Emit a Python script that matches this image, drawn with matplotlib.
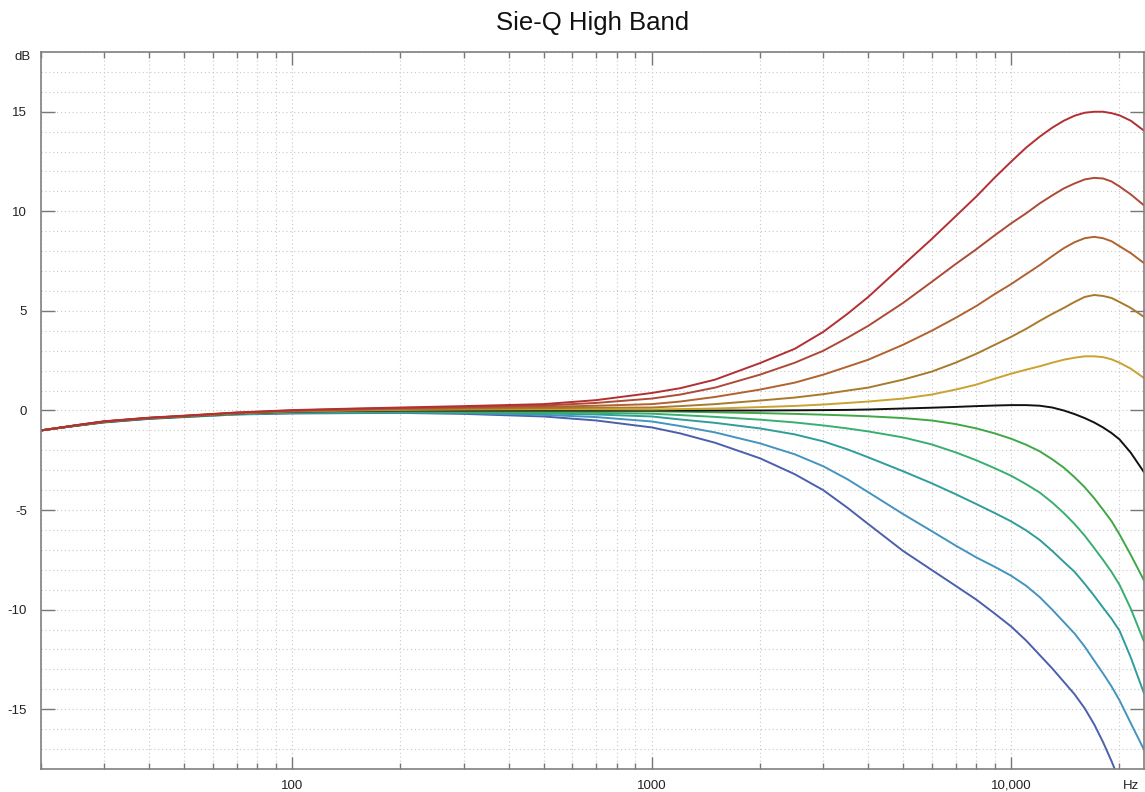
import matplotlib
matplotlib.use("Agg")
import matplotlib.pyplot as plt
from matplotlib.ticker import FixedLocator, LogLocator, MultipleLocator, NullFormatter

plt.rcParams["font.family"] = ["Liberation Sans", "DejaVu Sans"]
plt.rcParams["axes.unicode_minus"] = False

freqs = [20, 25, 30, 40, 50, 70, 100, 150, 200, 300, 500, 700,
         1000, 1200, 1500, 2000, 2500, 3000, 3500, 4000, 5000, 6000, 7000, 8000, 9000,
         10000, 11000, 12000, 13000, 14000, 15000, 16000, 17000, 18000, 19000, 20000, 21500, 23400]

# gain curves (dB), top to bottom
boost_15 = [-1.0, -0.74, -0.54, -0.36, -0.26, -0.1, 0.02, 0.1, 0.15, 0.22, 0.32, 0.52,
            0.88, 1.12, 1.55, 2.38, 3.1, 3.95, 4.85, 5.7, 7.3, 8.6, 9.75, 10.75, 11.7,
            12.5, 13.2, 13.75, 14.2, 14.55, 14.8, 14.95, 15.0, 15.0, 14.93, 14.82, 14.55, 14.05]
boost_12 = [-1.0, -0.74, -0.55, -0.37, -0.27, -0.11, 0.0, 0.08, 0.12, 0.17, 0.25, 0.38,
            0.6, 0.8, 1.15, 1.8, 2.4, 3.0, 3.65, 4.25, 5.4, 6.45, 7.35, 8.1, 8.8,
            9.4, 9.9, 10.4, 10.8, 11.15, 11.4, 11.6, 11.68, 11.65, 11.5, 11.25, 10.85, 10.3]
boost_9 = [-1.0, -0.75, -0.55, -0.37, -0.28, -0.12, -0.02, 0.05, 0.09, 0.13, 0.18, 0.24,
           0.32, 0.45, 0.68, 1.05, 1.4, 1.8, 2.2, 2.55, 3.3, 4.0, 4.65, 5.25, 5.85,
           6.35, 6.85, 7.3, 7.75, 8.15, 8.45, 8.65, 8.72, 8.65, 8.5, 8.25, 7.9, 7.4]
boost_6 = [-1.0, -0.75, -0.56, -0.38, -0.28, -0.13, -0.03, 0.03, 0.06, 0.09, 0.12, 0.14,
           0.15, 0.22, 0.32, 0.5, 0.65, 0.82, 1.0, 1.15, 1.55, 1.95, 2.4, 2.85, 3.3,
           3.7, 4.1, 4.5, 4.85, 5.15, 5.45, 5.7, 5.8, 5.75, 5.65, 5.45, 5.15, 4.7]
boost_3 = [-1.0, -0.75, -0.56, -0.38, -0.29, -0.14, -0.04, 0.0, 0.03, 0.05, 0.06, 0.06,
           0.05, 0.07, 0.1, 0.17, 0.23, 0.3, 0.38, 0.45, 0.6, 0.8, 1.05, 1.3, 1.6,
           1.85, 2.05, 2.22, 2.4, 2.55, 2.65, 2.72, 2.72, 2.68, 2.57, 2.4, 2.1, 1.63]
flat_0 = [-1.0, -0.76, -0.57, -0.39, -0.3, -0.15, -0.05, -0.02, 0.0, 0.0, 0.0, 0.0,
          0.0, 0.0, 0.0, 0.0, 0.01, 0.02, 0.03, 0.05, 0.1, 0.14, 0.18, 0.22, 0.25,
          0.27, 0.27, 0.24, 0.15, 0.0, -0.18, -0.38, -0.6, -0.85, -1.13, -1.45, -2.12, -3.1]
cut_3 = [-1.0, -0.76, -0.57, -0.39, -0.3, -0.16, -0.06, -0.04, -0.03, -0.04, -0.04, -0.04,
         -0.04, -0.06, -0.09, -0.13, -0.17, -0.21, -0.25, -0.29, -0.38, -0.5, -0.68, -0.9, -1.15,
         -1.42, -1.72, -2.05, -2.45, -2.87, -3.35, -3.85, -4.4, -4.98, -5.55, -6.22, -7.25, -8.53]
cut_6 = [-1.0, -0.76, -0.58, -0.4, -0.31, -0.17, -0.08, -0.07, -0.06, -0.08, -0.1, -0.12,
         -0.16, -0.23, -0.32, -0.46, -0.6, -0.75, -0.9, -1.05, -1.35, -1.7, -2.1, -2.5, -2.9,
         -3.28, -3.7, -4.12, -4.62, -5.15, -5.7, -6.28, -6.9, -7.5, -8.1, -8.75, -9.95, -11.6]
cut_9 = [-1.0, -0.76, -0.58, -0.4, -0.31, -0.18, -0.1, -0.09, -0.08, -0.1, -0.15, -0.2,
         -0.3, -0.45, -0.62, -0.9, -1.2, -1.55, -1.95, -2.35, -3.05, -3.65, -4.2, -4.7, -5.15,
         -5.57, -6.02, -6.5, -7.05, -7.6, -8.1, -8.7, -9.3, -9.9, -10.45, -11.05, -12.4, -14.2]
cut_12 = [-1.0, -0.77, -0.59, -0.41, -0.32, -0.19, -0.12, -0.11, -0.1, -0.13, -0.22, -0.33,
          -0.55, -0.78, -1.1, -1.65, -2.2, -2.8, -3.45, -4.1, -5.2, -6.05, -6.78, -7.38, -7.85,
          -8.3, -8.8, -9.37, -10.0, -10.62, -11.2, -11.85, -12.55, -13.2, -13.85, -14.55, -15.7, -17.03]
cut_15 = [-1.0, -0.77, -0.6, -0.42, -0.33, -0.2, -0.15, -0.13, -0.12, -0.17, -0.3, -0.5,
          -0.85, -1.15, -1.62, -2.4, -3.2, -4.0, -4.88, -5.7, -7.05, -8.0, -8.8, -9.5, -10.2,
          -10.85, -11.55, -12.28, -12.95, -13.62, -14.25, -14.95, -15.75, -16.65, -17.6, -18.6, -20.3, -22.5]

curves = [cut_15, cut_12, cut_9, cut_6, cut_3, flat_0, boost_3, boost_6, boost_9, boost_12, boost_15]
colors = ["#4b5fad", "#4494c0", "#2f9d9a", "#39ae72", "#3fa845", "#111111",
          "#c9a22f", "#a87a2c", "#b0622f", "#ad4a37", "#b22f33"]

fig = plt.figure(figsize=(11.45, 7.92), dpi=100)
ax = fig.add_axes([41 / 1145, 1 - 769 / 792, 1103 / 1145, 717 / 792])

for vals, col in zip(curves, colors):
    ax.plot(freqs, vals, color=col, lw=1.4, solid_capstyle="round", solid_joinstyle="round")

ax.set_xscale("log")
ax.set_xlim(20, 23400)
ax.set_ylim(-18, 18)

# ticks
ax.xaxis.set_major_locator(FixedLocator([100, 1000, 10000]))
ax.set_xticklabels(["100", "1000", "10,000"])
ax.xaxis.set_minor_locator(LogLocator(base=10, subs=range(2, 10), numticks=20))
ax.xaxis.set_minor_formatter(NullFormatter())
ax.yaxis.set_major_locator(MultipleLocator(5))
ax.yaxis.set_minor_locator(MultipleLocator(1))

ax.tick_params(which="both", direction="in", top=True, right=True, colors="#777777",
               labelcolor="#222222", labelsize=9.5)
ax.tick_params(axis="x", which="major", length=9, width=1, pad=14.4)
ax.tick_params(axis="x", which="minor", length=4, width=1)
ax.tick_params(axis="y", which="major", length=10, width=1, pad=10)
ax.tick_params(axis="y", which="minor", length=0)
for lbl in ax.get_xticklabels():
    lbl.set_verticalalignment("baseline")

for s in ax.spines.values():
    s.set_color("#808080")
    s.set_linewidth(1.2)

ax.grid(True, which="both", color="#c8c8c8", linestyle=(0, (1, 2.5)), linewidth=0.8)
ax.set_axisbelow(True)

ax.set_title("Sie-Q High Band", fontsize=18.5, color="#111111", pad=16)
fig.text(31 / 1145, 1 - 57 / 792, "dB", ha="right", va="center", fontsize=9.5, color="#222222")
fig.text(1131 / 1145, 1 - 789 / 792, "Hz", ha="center", va="baseline", fontsize=9.5, color="#222222")

fig.savefig("out.png", dpi=100)
